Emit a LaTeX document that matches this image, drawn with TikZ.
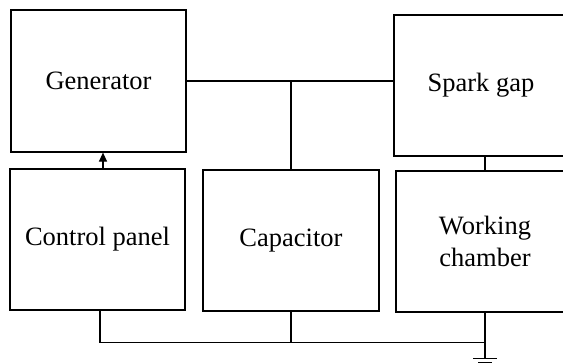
\documentclass[tikz,border=0pt]{standalone}
\usepackage{fontspec}
\setmainfont{Liberation Serif}
\usepackage{tikz}
\usetikzlibrary{arrows.meta}

\begin{document}
\begin{tikzpicture}[x=1pt,y=-1pt,line width=1.2pt,
	block/.style={draw, minimum height=141pt, align=center, font=\fontsize{26.5}{32}\selectfont}]
	\useasboundingbox (0,0) rectangle (563,362);
	\clip (0,0) rectangle (563,362);
	
	\node[block, minimum width=175pt, minimum height=142pt] (gen) at (98.5,81) {Generator};
	\node[block, minimum width=175pt] (ctrl) at (97.5,239.5) {Control panel};
	\node[block, minimum width=176pt] (cap) at (291,240.5) {Capacitor};
	\node[block, minimum width=174pt] (spark) at (481,85.5) {Spark gap};
	\node[block, minimum width=178pt] (work) at (485,241.5) {Working\\chamber};
	
	\draw [-{Triangle[length=9pt,width=8pt]}] ([xshift=5.5pt]ctrl.north) -- ([xshift=5.5pt]ctrl.north |- gen.south);
	\draw (gen.east) -- (gen.east -| spark.west);
	\draw (cap.north) -- (cap.north |- gen.east);
	\draw (work.north) -- (work.north |- spark.south);
	\draw ([xshift=2.5pt]ctrl.south) -- ++(0,32) coordinate (bus) -- (bus -| work.south);
	\draw (cap.south) -- (cap.south |- bus);
	\draw (work.south) -- ++(0,46) coordinate (gnd);
	\draw (gnd) ++(-12,0) -- ++(24,0);
	\draw (gnd) ++(-7,4) -- ++(14,0);
\end{tikzpicture}
\end{document}
